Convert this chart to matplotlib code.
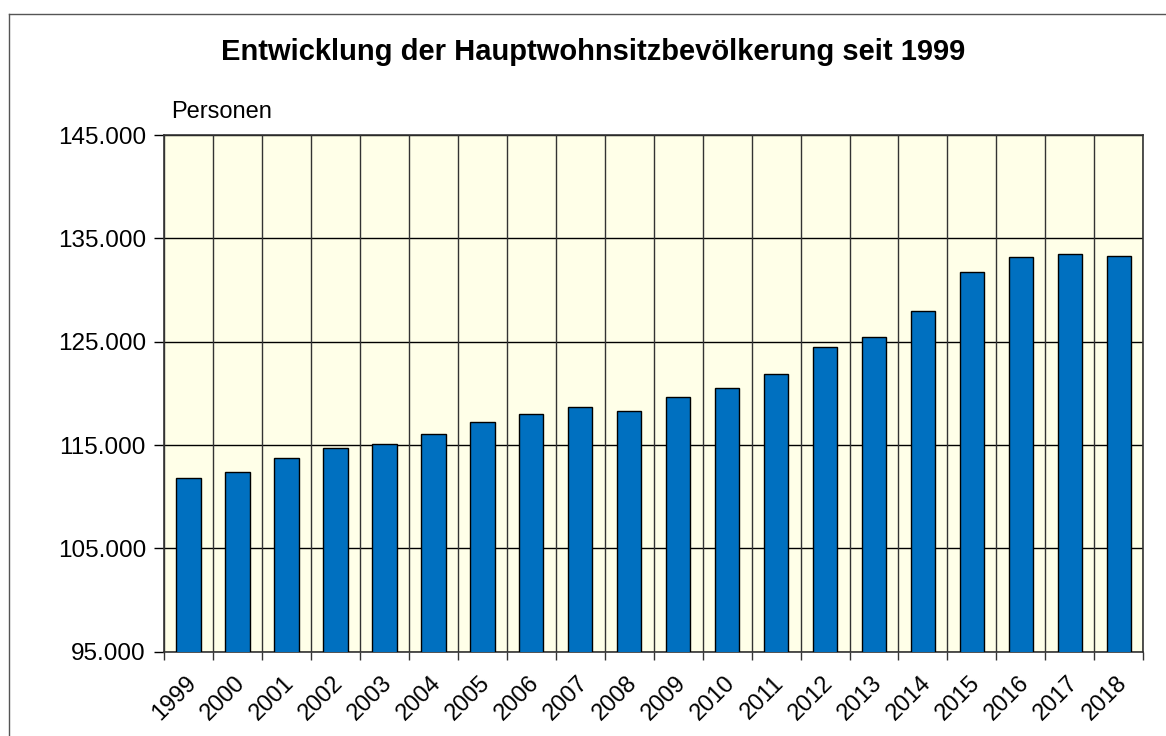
import matplotlib
matplotlib.use("Agg")
import matplotlib.pyplot as plt
import matplotlib.transforms as mtransforms
from matplotlib.lines import Line2D
from matplotlib.ticker import FuncFormatter, FixedLocator

years = ["1999", "2000", "2001", "2002", "2003", "2004", "2005", "2006", "2007", "2008",
         "2009", "2010", "2011", "2012", "2013", "2014", "2015", "2016", "2017", "2018"]
population = [111770, 112350, 113760, 114670, 115120, 116030, 117190, 117960, 118640, 118250,
              119600, 120530, 121830, 124500, 125460, 127980, 131720, 133240, 133530, 133270]
y_ticks = [95000, 105000, 115000, 125000, 135000, 145000]

plt.rcParams['font.family'] = ['Liberation Sans', 'DejaVu Sans']

fig = plt.figure(figsize=(11.66, 7.36), dpi=100)
ax = fig.add_axes([164/1166, 1 - 651.7/736, (1143.3 - 164)/1166, (651.7 - 135)/736])
ax.set_facecolor('#FFFFE8')

x = list(range(len(years)))
ax.bar(x, population, width=0.5, color='#0070C0', edgecolor='black', linewidth=1, zorder=3)

ax.set_xlim(-0.5, len(years) - 0.5)
ax.set_ylim(95000, 145000)
ax.set_yticks(y_ticks)
ax.yaxis.set_major_formatter(FuncFormatter(lambda v, p: f"{int(v):,}".replace(",", ".")))

# grid: horizontal at y ticks, vertical at category boundaries
for yv in y_ticks:
    ax.axhline(yv, color='black', linewidth=1, zorder=1)
boundaries = [i - 0.5 for i in range(len(years) + 1)]
for b in boundaries:
    ax.axvline(b, color='#333333', linewidth=1, zorder=1)

ax.xaxis.set_major_locator(FixedLocator(boundaries))
ax.xaxis.set_major_formatter(FuncFormatter(lambda v, p: ""))
ax.xaxis.set_minor_locator(FixedLocator(x))
ax.set_xticklabels(years, minor=True, rotation=45, ha='right', va='top',
                   rotation_mode='anchor', fontsize=17)
ax.tick_params(axis='x', which='minor', length=0, pad=14.5)
ax.tick_params(axis='x', which='major', length=6, width=1, direction='out', color='#333333')
ax.tick_params(axis='y', which='major', length=7, width=1, direction='out', labelsize=17.5, pad=6)

offset = mtransforms.ScaledTranslation(-3.0/100, 0, fig.dpi_scale_trans)
for lbl in ax.get_xticklabels(minor=True):
    lbl.set_transform(lbl.get_transform() + offset)

for s in ax.spines.values():
    s.set_color('#333333')
    s.set_linewidth(1.2)

fig.text(593.5/1166, 1 - 52/736, "Entwicklung der Hauptwohnsitzbevölkerung seit 1999",
         ha='center', va='center', fontsize=21, fontweight='bold')
fig.text(171/1166, 1 - 112.5/736, "Personen", ha='left', va='center', fontsize=17)

# outer frame lines (left and top)
fig.add_artist(Line2D([9/1166, 9/1166], [0, 1 - 14/736], transform=fig.transFigure,
                      color='#555555', linewidth=1))
fig.add_artist(Line2D([9/1166, 1], [1 - 14/736, 1 - 14/736], transform=fig.transFigure,
                      color='#555555', linewidth=1))

fig.savefig("out.png", dpi=100)
